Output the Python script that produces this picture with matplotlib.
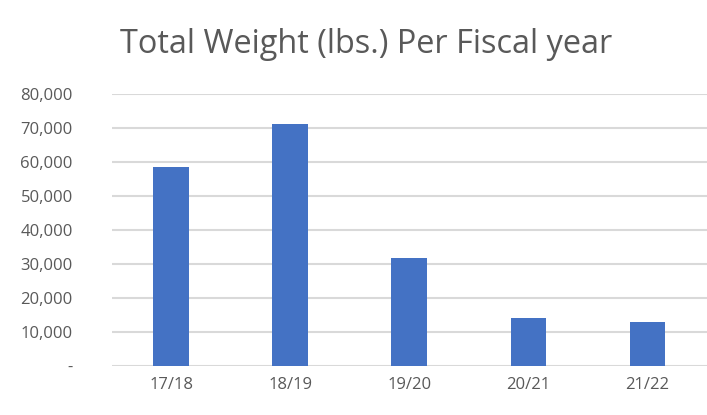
import matplotlib.pyplot as plt
from matplotlib.ticker import FuncFormatter

# fiscal year totals (lbs.)
years = ['17/18', '18/19', '19/20', '20/21', '21/22']
weights = [58400, 71100, 31700, 14200, 13000]
y_ticks = [0, 10000, 20000, 30000, 40000, 50000, 60000, 70000, 80000]

plt.rcParams['font.family'] = ['Open Sans', 'DejaVu Sans']

fig = plt.figure(figsize=(7.07, 4.15), dpi=100)
ax = fig.add_axes([0.158, 0.118, 0.842, 0.6555])

x = range(len(years))
ax.bar(x, weights, width=0.3, color='#4472C4', zorder=3)

ax.set_xlim(-0.5, len(years) - 0.5)
ax.set_ylim(0, 80000)
ax.set_yticks(y_ticks)
ax.yaxis.set_major_formatter(FuncFormatter(lambda v, p: '-' if v == 0 else f'{int(v):,}'))
ax.set_xticks(list(x))
ax.set_xticklabels(years)

ax.grid(axis='y', color='#d9d9d9', linewidth=1.5, zorder=0)
for s in ['top', 'right', 'left', 'bottom']:
    ax.spines[s].set_visible(False)
ax.tick_params(axis='both', length=0, colors='#595959', labelsize=12)
ax.tick_params(axis='y', pad=28)
ax.tick_params(axis='x', pad=8)

fig.text(0.518, 0.893, 'Total Weight (lbs.) Per Fiscal year', ha='center', va='center',
         fontsize=23.4, color='#595959')

fig.savefig('out.png', dpi=100)
